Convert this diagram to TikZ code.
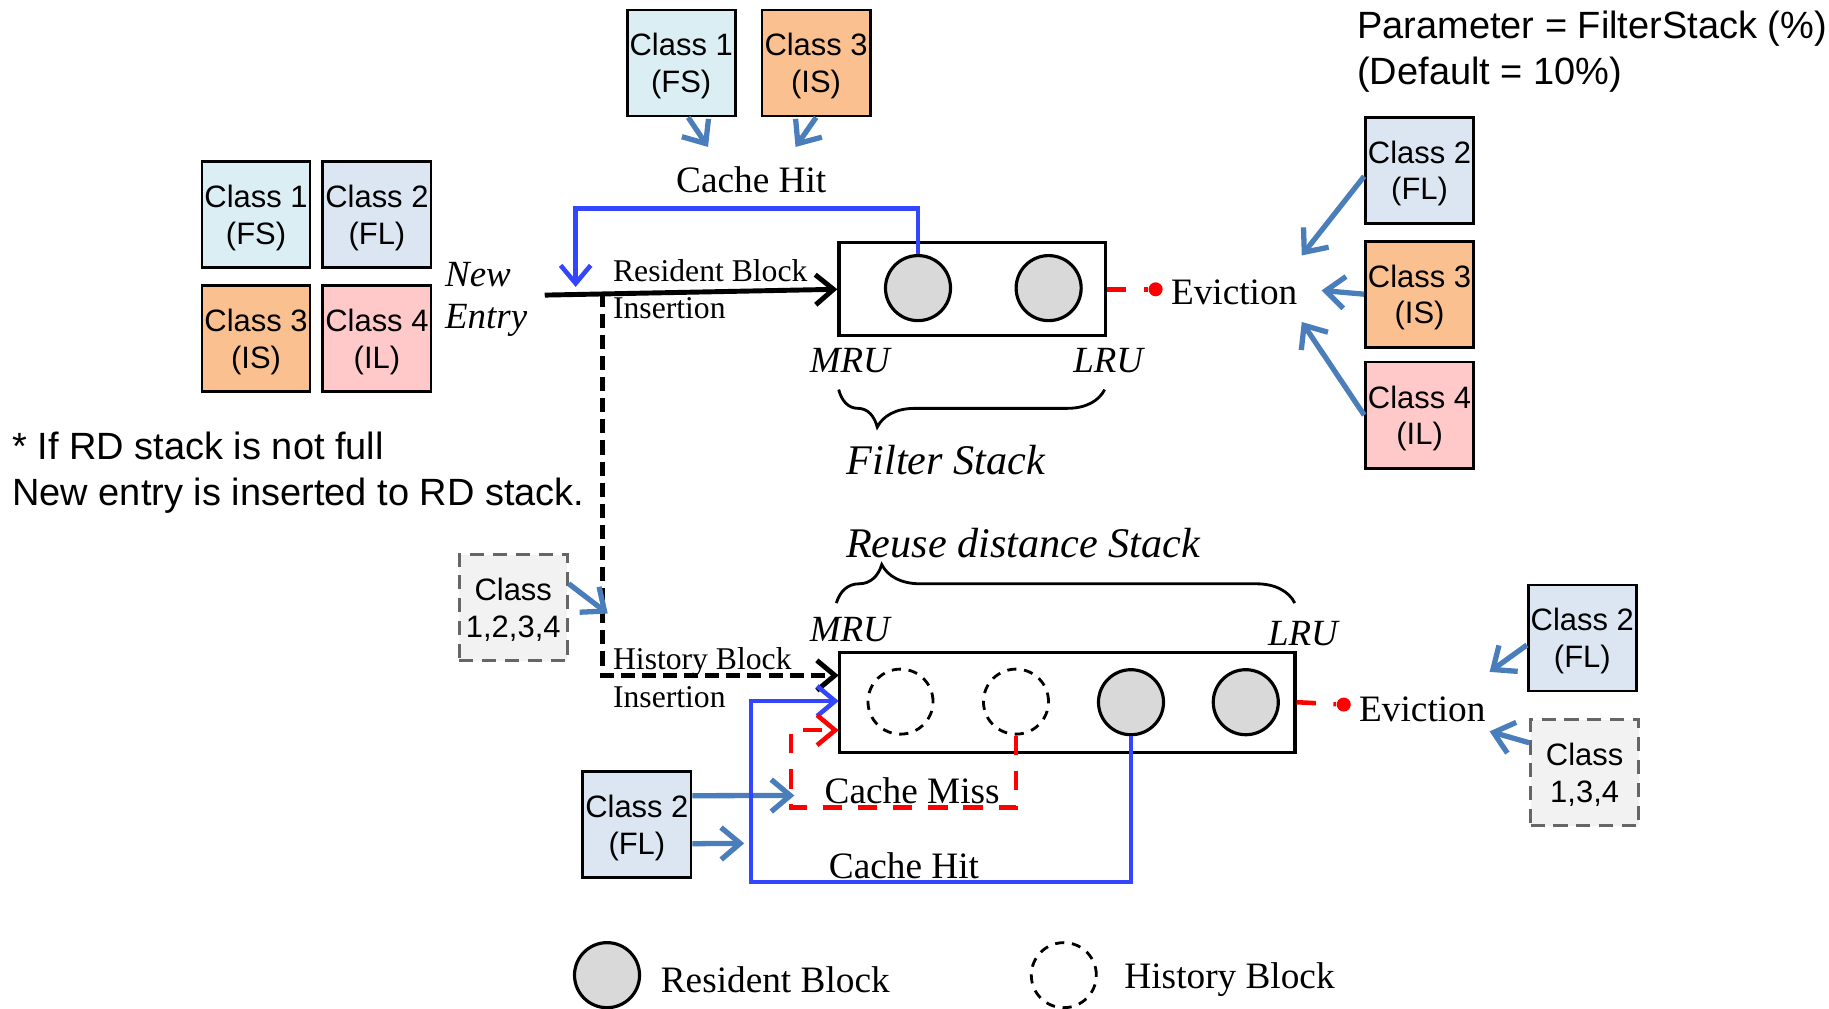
\documentclass[tikz,border=0pt]{standalone}
\usepackage{fontspec}
\setmainfont{Liberation Serif}
\newfontfamily\clsfont{Liberation Sans}
\usepackage{tikz}
\usetikzlibrary{positioning,arrows.meta,decorations.pathreplacing}

\definecolor{fsfill}{HTML}{DAEEF3}
\definecolor{flfill}{HTML}{DCE6F2}
\definecolor{isfill}{HTML}{FAC090}
\definecolor{ilfill}{HTML}{FFC9C9}
\definecolor{anyfill}{HTML}{F2F2F2}
\definecolor{feedblue}{HTML}{4A7EBB}
\definecolor{hitblue}{HTML}{3346FF}

\begin{document}
\begin{tikzpicture}[
  x=0.011665cm, y=-0.011665cm,
  every node/.style={align=center},
  cls/.style={draw, line width=0.8pt, minimum width=1.08cm, minimum height=1.06cm, inner sep=0pt, text depth=0pt, font=\clsfont\fontsize{8.8}{10.4}\selectfont},
  fsbox/.style={cls, fill=fsfill},
  flbox/.style={cls, fill=flfill},
  isbox/.style={cls, fill=isfill},
  ilbox/.style={cls, fill=ilfill},
  anybox/.style={cls, fill=anyfill, draw=black!60, dash pattern=on 4pt off 2.5pt},
  stk/.style={draw, line width=0.9pt, inner sep=0pt},
  resblk/.style={circle, draw, line width=0.9pt, fill=gray!30, minimum size=0.65cm, inner sep=0pt},
  hisblk/.style={circle, draw, line width=0.8pt, dash pattern=on 2.6pt off 2.2pt, minimum size=0.65cm, inner sep=0pt},
  feed/.style={-{Straight Barb[length=1.9mm,width=3.2mm]}, feedblue, line width=1.5pt},
  hit/.style={-{Straight Barb[length=1.8mm,width=3mm]}, hitblue, line width=1.3pt},
  ins/.style={-{Straight Barb[length=1.8mm,width=3mm]}, line width=1.4pt},
  hisln/.style={ins, dash pattern=on 4pt off 2pt},
  miss/.style={-{Straight Barb[length=1.8mm,width=3mm]}, red, line width=1.3pt, dash pattern=on 5.5pt off 4.5pt},
  evict/.style={red, line width=1.3pt, dash pattern=on 5.5pt off 5pt},
  evdot/.style={circle, fill=red, minimum size=0.14cm, inner sep=0pt},
  lbl/.style={font=\fontsize{10.6}{12.7}\selectfont},
  inslbl/.style={font=\fontsize{9}{10.6}\selectfont, align=left, inner sep=0pt},
  ital/.style={font=\itshape\fontsize{10.5}{12}\selectfont},
  stklbl/.style={font=\itshape\fontsize{12}{14}\selectfont},
  note/.style={font=\clsfont\fontsize{10.8}{13.1}\selectfont, align=left, inner sep=0pt},
  brc/.style={decorate, line width=0.8pt}
]
\useasboundingbox (0,0) rectangle (1568,865);

% filter stack
\node[stk, minimum width=2.66cm, minimum height=0.93cm] (fstk) at (833.3,248) {};
\foreach \n/\x in {f1/787,f2/899} \node[resblk] (\n) at (\x,247) {};
\node[ital] (fmru) at (728.5,309) {MRU};
\node[ital] (flru) at (950,309) {LRU};
\draw[brc, decoration={brace, amplitude=0.375cm, aspect=0.855}] (947,334) -- (719,334);
\node[stklbl] (fname) at (811,394) {Filter Stack};

% classes hitting the filter stack
\node[fsbox] (tfs) at (584,54) {Class 1\\(FS)};
\node[isbox, right=0.24cm of tfs] (tis) {Class 3\\(IS)};
\node[lbl] (chit) at (644,154) {Cache Hit};
\coordinate (tfsend) at (607,126);
\coordinate (tisend) at (682,126);
\draw[feed] ([xshift=0.07cm]tfs.south) -- (tfsend);
\draw[feed] (tis.south) -- (tisend);

% new entries
\node[fsbox] (lfs) at (219.5,184) {Class 1\\(FS)};
\node[flbox, right=0.1cm of lfs] (lfl) {Class 2\\(FL)};
\node[isbox, below=0.15cm of lfs] (lis) {Class 3\\(IS)};
\node[ilbox, right=0.1cm of lis] (lil) {Class 4\\(IL)};
\node[ital, anchor=west, align=left, inner sep=0pt] (newent) at (381,257) {New\\Entry};
\coordinate (newin) at (467,253);
\draw[ins] (newin) -- (fstk.west);
\node[inslbl, anchor=west] (resins) at (525,248) {Resident Block\\Insertion};
\coordinate (hitbend) at (493.5,178.6);
\coordinate (hitin) at (493.5,246);
\draw[hit] (f1.north) |- (hitbend) -- (hitin);

% filter eviction
\node[evdot] (fdot) at (990.7,248) {};
\draw[evict] (fstk.east) -- (fdot);
\node[lbl, right=0.07cm of fdot, yshift=-0.03cm, inner sep=0pt] (fev) {Eviction};
\node[flbox] (efl) at (1217,146) {Class 2\\(FL)};
\node[isbox, below=0.15cm of efl] (eis) {Class 3\\(IS)};
\node[ilbox, below=0.12cm of eis] (eil) {Class 4\\(IL)};
\coordinate (fevin1) at (1116,219);
\coordinate (fevin2) at (1133,249);
\coordinate (fevin3) at (1116,276);
\draw[feed] ([yshift=-0.06cm]efl.west) -- (fevin1);
\draw[feed] (eis.west) -- (fevin2);
\draw[feed] (eil.west) -- (fevin3);

\node[note, anchor=west] (param) at (1163,44) {Parameter = FilterStack (\%)\\(Default = 10\%)};
\node[note, anchor=west] (rdnote) at (10,405) {* If RD stack is not full\\New entry is inserted to RD stack.};

% reuse distance stack
\node[stk, minimum width=4.55cm, minimum height=1.0cm] (rstk) at (915,602) {};
\foreach \n/\x in {r1/772,r2/871} \node[hisblk] (\n) at (\x,601.5) {};
\foreach \n/\x in {r3/969.6,r4/1068} \node[resblk] (\n) at (\x,602) {};
\node[stklbl] (rname) at (877,466) {Reuse distance Stack};
\draw[brc, decoration={brace, amplitude=0.385cm, aspect=0.099}] (717,517) -- (1110,517);
\node[ital] (rmru) at (728.6,540) {MRU};
\node[ital] (rlru) at (1117,543) {LRU};

% history insertion
\coordinate (hisfork) at (516.5,251);
\coordinate (hisin) at (719,579);
\draw[hisln] (hisfork) |- (hisin);
\node[inslbl, anchor=west] (hisins) at (525,581) {History Block\\Insertion};
\node[anybox] (anyin) at (440,521) {Class\\1,2,3,4};
\coordinate (anyend) at (521,526);
\draw[feed] ([yshift=0.24cm]anyin.east) -- (anyend);

% hits and misses in the RD stack
\node[flbox] (hfl) at (546,707) {Class 2\\(FL)};
\coordinate (missfeed) at (681,682);
\coordinate (hitfeed) at (638,723);
\draw[feed] ([yshift=0.29cm]hfl.east) -- (missfeed);
\draw[feed] ([yshift=-0.19cm]hfl.east) -- (hitfeed);
\coordinate (hitlow) at (644,756);
\coordinate (rhitin) at (719,601);
\draw[hit] (r3.south) |- (hitlow) |- (rhitin);
\coordinate (misslow) at (678,692.5);
\coordinate (rmissin) at (719,626);
\draw[miss] (r2.south) |- (misslow) |- (rmissin);
\node[lbl] (cmiss) at (782,678) {Cache Miss};
\node[lbl] (chit2) at (775,742) {Cache Hit};

% RD eviction
\node[evdot] (rdot) at (1152,604) {};
\draw[evict] (rstk.east) -- (rdot);
\node[lbl, right=0.07cm of rdot, yshift=-0.05cm, inner sep=0pt] (rev) {Eviction};
\node[flbox] (bfl) at (1356.5,547) {Class 2\\(FL)};
\node[anybox] (bany) at (1358.5,662.5) {Class\\1,3,4};
\coordinate (revin1) at (1277,576);
\coordinate (revin2) at (1277,627);
\draw[feed] ([yshift=-0.07cm]bfl.west) -- (revin1);
\draw[feed] ([yshift=0.3cm]bany.west) -- (revin2);

% legend
\node[resblk] (lgres) at (520.4,836) {};
\node[lbl, right=0.19cm of lgres, yshift=-0.045cm, inner sep=0pt] (lgrestxt) {Resident Block};
\node[hisblk] (lghis) at (912,836) {};
\node[lbl, right=0.26cm of lghis, yshift=-0.045cm, inner sep=0pt] (lghistxt) {History Block};
\end{tikzpicture}
\end{document}
